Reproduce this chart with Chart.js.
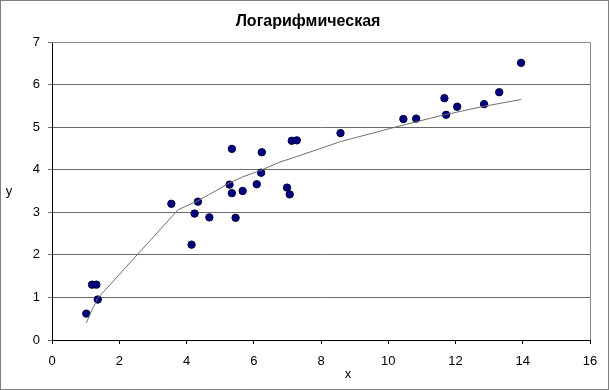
<!DOCTYPE html>
<html lang="ru">
<head>
    <meta charset="UTF-8">
    <title>Логарифмическая</title>
    <script src="https://cdn.jsdelivr.net/npm/chart.js@4.4.1/dist/chart.umd.min.js"></script>
    <style>
        html, body {
            margin: 0;
            padding: 0;
            background-color: #ffffff;
        }
        #chart {
            display: block;
        }
    </style>
</head>
<body>
<canvas id="chart" width="610" height="390"></canvas>

<script>
    // точки наблюдений
    var pointX = [1.02, 1.19, 1.32, 1.36, 3.55, 4.15, 4.24, 4.34, 4.68, 5.28, 5.35, 5.35, 5.46, 5.67, 6.09,
        6.22, 6.24, 6.99, 7.07, 7.13, 7.28, 8.58, 10.45, 10.83, 11.67, 11.72, 12.05, 12.85, 13.30, 13.95];
    var pointY = [0.62, 1.30, 1.30, 0.95, 3.20, 2.24, 2.97, 3.25, 2.88, 3.65, 4.49, 3.45, 2.87, 3.50, 3.66,
        3.93, 4.41, 3.58, 3.42, 4.68, 4.69, 4.86, 5.19, 5.20, 5.68, 5.29, 5.48, 5.54, 5.82, 6.51];

    // линия тренда (значения)
    var trendX = [1.02, 1.19, 1.36, 3.75, 4.34, 4.68, 5.28, 5.67, 6.22, 6.78, 7.28, 8.58, 10.45, 11.67, 12.85, 13.95];
    var trendY = [0.40, 0.71, 0.98, 3.06, 3.27, 3.42, 3.69, 3.83, 3.99, 4.18, 4.31, 4.66, 5.05, 5.29, 5.49, 5.65];

    var xTicks = [0, 2, 4, 6, 8, 10, 12, 14, 16];
    var yTicks = [0, 1, 2, 3, 4, 5, 6, 7];

    var points = pointX.map(function(x, i) { return {x: x, y: pointY[i]}; });
    var trend = trendX.map(function(x, i) { return {x: x, y: trendY[i]}; });

    var fontName = '"Liberation Sans", Arial, sans-serif';

    // заголовок, подписи осей, рамки
    var decor = {
        id: 'decor',
        beforeDraw: function(chart) {
            var ctx = chart.ctx;
            ctx.save();
            ctx.fillStyle = '#ffffff';
            ctx.fillRect(0, 0, chart.width, chart.height);
            ctx.restore();
        },
        afterDraw: function(chart) {
            var ctx = chart.ctx;
            var a = chart.chartArea;
            ctx.save();
            // рамка области построения (справа и сверху)
            ctx.strokeStyle = '#8a8a8a';
            ctx.lineWidth = 1;
            ctx.beginPath();
            ctx.moveTo(a.left, a.top + 0.5);
            ctx.lineTo(a.right + 0.5, a.top + 0.5);
            ctx.lineTo(a.right + 0.5, a.bottom);
            ctx.stroke();

            // внешняя пунктирная рамка
            ctx.strokeStyle = '#000000';
            ctx.setLineDash([1, 1]);
            ctx.strokeRect(0.5, 0.5, 608, 389);
            ctx.setLineDash([]);

            ctx.fillStyle = '#000000';
            ctx.textAlign = 'center';
            ctx.textBaseline = 'middle';
            ctx.font = 'bold 16px ' + fontName;
            ctx.fillText('Логарифмическая', 308, 22);

            ctx.font = '13px ' + fontName;
            ctx.fillText('x', 348, 374);
            ctx.fillText('y', 9, 191);
            ctx.restore();
        }
    };

    new Chart(document.getElementById('chart'), {
        type: 'scatter',
        data: {
            datasets: [{
                label: 'тренд',
                data: trend,
                showLine: true,
                borderColor: '#707070',
                borderWidth: 1,
                pointRadius: 0,
                fill: false,
                order: 0
            }, {
                label: 'y',
                data: points,
                pointRadius: 3.7,
                pointBackgroundColor: '#000080',
                pointBorderColor: '#00003a',
                pointBorderWidth: 1,
                order: 1
            }]
        },
        options: {
            responsive: false,
            animation: false,
            devicePixelRatio: 1,
            layout: {
                padding: {left: 0, right: 20, top: 42, bottom: 0}
            },
            plugins: {
                legend: {display: false},
                title: {display: false},
                tooltip: {enabled: false}
            },
            scales: {
                x: {
                    type: 'linear',
                    min: 0,
                    max: 16,
                    afterBuildTicks: function(scale) {
                        scale.ticks = xTicks.map(function(v) { return {value: v}; });
                    },
                    afterFit: function(scale) { scale.height = 50; },
                    grid: {
                        drawOnChartArea: false,
                        drawTicks: true,
                        tickLength: 4,
                        color: '#000000'
                    },
                    border: {color: '#000000', width: 1},
                    ticks: {
                        color: '#000000',
                        padding: 10,
                        maxRotation: 0,
                        font: {family: fontName, size: 13}
                    }
                },
                y: {
                    type: 'linear',
                    min: 0,
                    max: 7,
                    afterBuildTicks: function(scale) {
                        scale.ticks = yTicks.map(function(v) { return {value: v}; });
                    },
                    afterFit: function(scale) { scale.width = 52; },
                    grid: {
                        drawOnChartArea: true,
                        drawTicks: true,
                        tickLength: 4,
                        color: '#6a6a6a'
                    },
                    border: {color: '#000000', width: 1},
                    ticks: {
                        color: '#000000',
                        padding: 8,
                        font: {family: fontName, size: 13}
                    }
                }
            }
        },
        plugins: [decor]
    });
</script>
</body>
</html>
